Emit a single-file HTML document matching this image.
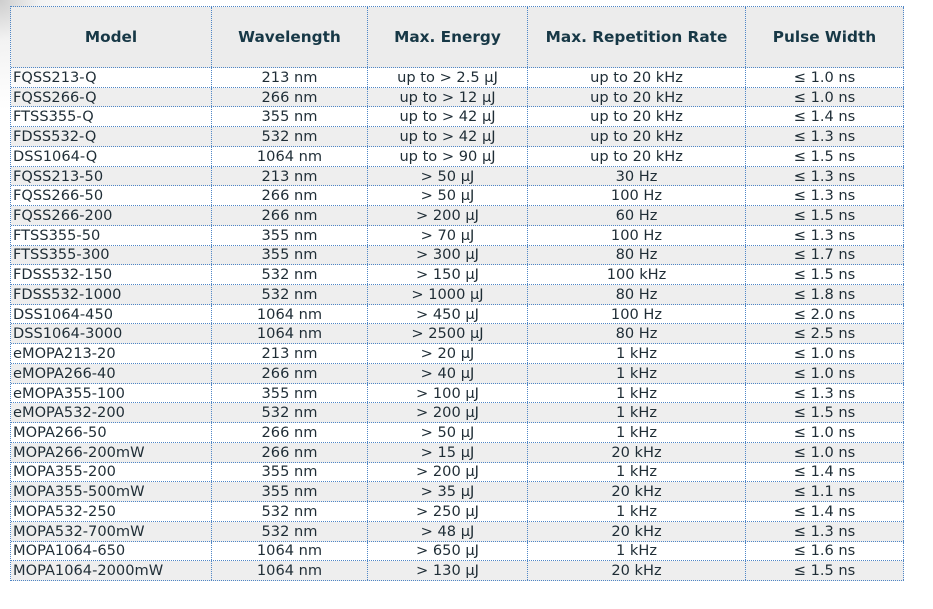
<!DOCTYPE html>
<html>
<head>
<meta charset="utf-8">
<style>
  html,body{margin:0;padding:0;background:#fff;}
  body{width:933px;height:609px;position:relative;overflow:hidden;
    font-family:"DejaVu Sans","Liberation Sans",sans-serif;}
  .shade{position:absolute;left:0;top:0;width:120px;height:120px;
    background:radial-gradient(circle at 0 0, rgba(200,200,200,0.9) 0px, rgba(230,230,230,0.5) 40px, rgba(255,255,255,0) 110px);}
  .tbl{position:absolute;left:10px;top:6px;width:893px;height:574px;
    border-top:1px dotted #4f86c6;border-left:1px dotted #4f86c6;}
  .row{position:absolute;left:0;width:893px;box-sizing:border-box;border-bottom:1px dotted #4f86c6;}
  .hdr{top:0;height:61px;background:#ececec;}
  .c{position:absolute;top:0;bottom:0;box-sizing:border-box;border-right:1px dotted #4f86c6;
     display:flex;align-items:center;justify-content:center;white-space:nowrap;
     font-size:14.6px;color:#1f2d36;}
  .c.l{justify-content:flex-start;padding-left:2px;}
  .hdr .c{font-weight:bold;font-size:15.3px;color:#173846;}
  .c1{left:0;width:201px;}
  .c2{left:201px;width:156px;}
  .c3{left:357px;width:160px;}
  .c4{left:517px;width:218px;}
  .c5{left:735px;width:158px;}
  .g{background:#eeeeee;}
</style>
</head>
<body>
<div class="shade"></div>
<div class="tbl">
  <div class="row hdr">
    <div class="c c1">Model</div>
    <div class="c c2">Wavelength</div>
    <div class="c c3">Max. Energy</div>
    <div class="c c4">Max. Repetition Rate</div>
    <div class="c c5">Pulse Width</div>
  </div>

  <div class="row" style="top:61px;height:19.73px"><div class="c c1 l">FQSS213-Q</div><div class="c c2">213 nm</div><div class="c c3">up to &gt; 2.5 µJ</div><div class="c c4">up to 20 kHz</div><div class="c c5">≤ 1.0 ns</div></div>
  <div class="row g" style="top:80.73px;height:19.73px"><div class="c c1 l">FQSS266-Q</div><div class="c c2">266 nm</div><div class="c c3">up to &gt; 12 µJ</div><div class="c c4">up to 20 kHz</div><div class="c c5">≤ 1.0 ns</div></div>
  <div class="row" style="top:100.46px;height:19.73px"><div class="c c1 l">FTSS355-Q</div><div class="c c2">355 nm</div><div class="c c3">up to &gt; 42 µJ</div><div class="c c4">up to 20 kHz</div><div class="c c5">≤ 1.4 ns</div></div>
  <div class="row g" style="top:120.19px;height:19.73px"><div class="c c1 l">FDSS532-Q</div><div class="c c2">532 nm</div><div class="c c3">up to &gt; 42 µJ</div><div class="c c4">up to 20 kHz</div><div class="c c5">≤ 1.3 ns</div></div>
  <div class="row" style="top:139.92px;height:19.73px"><div class="c c1 l">DSS1064-Q</div><div class="c c2">1064 nm</div><div class="c c3">up to &gt; 90 µJ</div><div class="c c4">up to 20 kHz</div><div class="c c5">≤ 1.5 ns</div></div>
  <div class="row g" style="top:159.65px;height:19.73px"><div class="c c1 l">FQSS213-50</div><div class="c c2">213 nm</div><div class="c c3">&gt; 50 µJ</div><div class="c c4">30 Hz</div><div class="c c5">≤ 1.3 ns</div></div>
  <div class="row" style="top:179.38px;height:19.73px"><div class="c c1 l">FQSS266-50</div><div class="c c2">266 nm</div><div class="c c3">&gt; 50 µJ</div><div class="c c4">100 Hz</div><div class="c c5">≤ 1.3 ns</div></div>
  <div class="row g" style="top:199.11px;height:19.73px"><div class="c c1 l">FQSS266-200</div><div class="c c2">266 nm</div><div class="c c3">&gt; 200 µJ</div><div class="c c4">60 Hz</div><div class="c c5">≤ 1.5 ns</div></div>
  <div class="row" style="top:218.84px;height:19.73px"><div class="c c1 l">FTSS355-50</div><div class="c c2">355 nm</div><div class="c c3">&gt; 70 µJ</div><div class="c c4">100 Hz</div><div class="c c5">≤ 1.3 ns</div></div>
  <div class="row g" style="top:238.57px;height:19.73px"><div class="c c1 l">FTSS355-300</div><div class="c c2">355 nm</div><div class="c c3">&gt; 300 µJ</div><div class="c c4">80 Hz</div><div class="c c5">≤ 1.7 ns</div></div>
  <div class="row" style="top:258.3px;height:19.73px"><div class="c c1 l">FDSS532-150</div><div class="c c2">532 nm</div><div class="c c3">&gt; 150 µJ</div><div class="c c4">100 kHz</div><div class="c c5">≤ 1.5 ns</div></div>
  <div class="row g" style="top:278.03px;height:19.73px"><div class="c c1 l">FDSS532-1000</div><div class="c c2">532 nm</div><div class="c c3">&gt; 1000 µJ</div><div class="c c4">80 Hz</div><div class="c c5">≤ 1.8 ns</div></div>
  <div class="row" style="top:297.76px;height:19.73px"><div class="c c1 l">DSS1064-450</div><div class="c c2">1064 nm</div><div class="c c3">&gt; 450 µJ</div><div class="c c4">100 Hz</div><div class="c c5">≤ 2.0 ns</div></div>
  <div class="row g" style="top:317.49px;height:19.73px"><div class="c c1 l">DSS1064-3000</div><div class="c c2">1064 nm</div><div class="c c3">&gt; 2500 µJ</div><div class="c c4">80 Hz</div><div class="c c5">≤ 2.5 ns</div></div>
  <div class="row" style="top:337.22px;height:19.73px"><div class="c c1 l">eMOPA213-20</div><div class="c c2">213 nm</div><div class="c c3">&gt; 20 µJ</div><div class="c c4">1 kHz</div><div class="c c5">≤ 1.0 ns</div></div>
  <div class="row g" style="top:356.95px;height:19.73px"><div class="c c1 l">eMOPA266-40</div><div class="c c2">266 nm</div><div class="c c3">&gt; 40 µJ</div><div class="c c4">1 kHz</div><div class="c c5">≤ 1.0 ns</div></div>
  <div class="row" style="top:376.68px;height:19.73px"><div class="c c1 l">eMOPA355-100</div><div class="c c2">355 nm</div><div class="c c3">&gt; 100 µJ</div><div class="c c4">1 kHz</div><div class="c c5">≤ 1.3 ns</div></div>
  <div class="row g" style="top:396.41px;height:19.73px"><div class="c c1 l">eMOPA532-200</div><div class="c c2">532 nm</div><div class="c c3">&gt; 200 µJ</div><div class="c c4">1 kHz</div><div class="c c5">≤ 1.5 ns</div></div>
  <div class="row" style="top:416.14px;height:19.73px"><div class="c c1 l">MOPA266-50</div><div class="c c2">266 nm</div><div class="c c3">&gt; 50 µJ</div><div class="c c4">1 kHz</div><div class="c c5">≤ 1.0 ns</div></div>
  <div class="row g" style="top:435.87px;height:19.73px"><div class="c c1 l">MOPA266-200mW</div><div class="c c2">266 nm</div><div class="c c3">&gt; 15 µJ</div><div class="c c4">20 kHz</div><div class="c c5">≤ 1.0 ns</div></div>
  <div class="row" style="top:455.6px;height:19.73px"><div class="c c1 l">MOPA355-200</div><div class="c c2">355 nm</div><div class="c c3">&gt; 200 µJ</div><div class="c c4">1 kHz</div><div class="c c5">≤ 1.4 ns</div></div>
  <div class="row g" style="top:475.33px;height:19.73px"><div class="c c1 l">MOPA355-500mW</div><div class="c c2">355 nm</div><div class="c c3">&gt; 35 µJ</div><div class="c c4">20 kHz</div><div class="c c5">≤ 1.1 ns</div></div>
  <div class="row" style="top:495.06px;height:19.73px"><div class="c c1 l">MOPA532-250</div><div class="c c2">532 nm</div><div class="c c3">&gt; 250 µJ</div><div class="c c4">1 kHz</div><div class="c c5">≤ 1.4 ns</div></div>
  <div class="row g" style="top:514.79px;height:19.73px"><div class="c c1 l">MOPA532-700mW</div><div class="c c2">532 nm</div><div class="c c3">&gt; 48 µJ</div><div class="c c4">20 kHz</div><div class="c c5">≤ 1.3 ns</div></div>
  <div class="row" style="top:534.52px;height:19.73px"><div class="c c1 l">MOPA1064-650</div><div class="c c2">1064 nm</div><div class="c c3">&gt; 650 µJ</div><div class="c c4">1 kHz</div><div class="c c5">≤ 1.6 ns</div></div>
  <div class="row g" style="top:554.25px;height:19.75px"><div class="c c1 l">MOPA1064-2000mW</div><div class="c c2">1064 nm</div><div class="c c3">&gt; 130 µJ</div><div class="c c4">20 kHz</div><div class="c c5">≤ 1.5 ns</div></div>
</div>
</body>
</html>
